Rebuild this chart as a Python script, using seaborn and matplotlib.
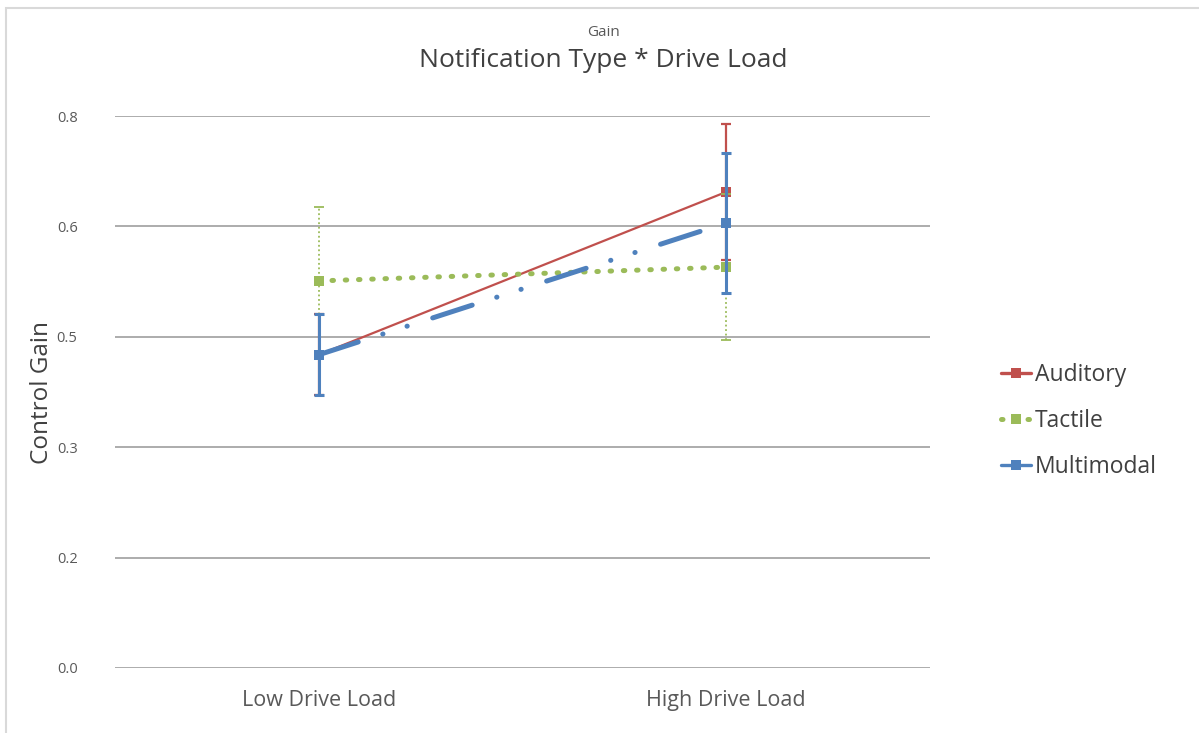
import matplotlib
matplotlib.use("Agg")
import matplotlib.pyplot as plt
from matplotlib.lines import Line2D
from matplotlib.patches import Rectangle
import seaborn as sns
import pandas as pd

# Chart data
loads = ["Low Drive Load", "High Drive Load"]
series = ["Auditory", "Tactile", "Multimodal"]
auditory = [0.454, 0.690]
tactile = [0.561, 0.581]
multimodal = [0.454, 0.645]
auditory_err = [0.059, 0.098]
tactile_err = [0.107, 0.106]
multimodal_err = [0.059, 0.101]
ytick_values = [0.0, 0.16, 0.32, 0.48, 0.64, 0.80]

sns.set_theme(style="white")
plt.rcParams["font.family"] = ["Open Sans", "DejaVu Sans"]

colors = {"Auditory": "#C0504D", "Tactile": "#9BBB59", "Multimodal": "#4F81BD"}
values = {"Auditory": auditory, "Tactile": tactile, "Multimodal": multimodal}
errors = {"Auditory": auditory_err, "Tactile": tactile_err, "Multimodal": multimodal_err}
styles = {
    "Auditory": dict(lw=1.6, ls="-", ms=7, ebls="-", elw=1.6),
    "Tactile": dict(lw=3.6, ls=(0, (0.3, 2.35)), ms=7.5, ebls=(0, (1, 1.5)), elw=1.3),
    "Multimodal": dict(lw=3.6, ls=(0, (8.3, 5.15, 0.05, 5.05, 0.05, 5.35)), ms=7.5, ebls="-", elw=2.2),
}

fig = plt.figure(figsize=(11.99, 7.33), dpi=100)
ax = fig.add_axes([115 / 1199, 0.0887, (930 - 115) / 1199, 0.8417 - 0.0887])

# thin frame around the chart area
fig.patches.append(Rectangle((6 / 1199, -0.01), 1.02, (733 - 8) / 733 + 0.01,
                             transform=fig.transFigure, fill=False,
                             edgecolor="#D9D9D9", lw=1.5))

for z, name in enumerate(series):
    st = styles[name]
    df = pd.DataFrame({"load": loads, "gain": values[name]})
    sns.lineplot(data=df, x="load", y="gain", ax=ax, color=colors[name],
                 linewidth=st["lw"], linestyle=st["ls"], marker="s",
                 markersize=st["ms"], markeredgewidth=0, sort=False,
                 zorder=3 + z)
    ax.lines[-1].set_dash_capstyle("round")
    eb = ax.errorbar(x=[0, 1], y=values[name], yerr=errors[name], fmt="none",
                     ecolor=colors[name], elinewidth=st["elw"], capsize=3.5,
                     capthick=st["elw"], zorder=3 + z)
    for col in eb[2]:
        col.set_linestyle(st["ebls"])

ax.set_xlim(-0.5, 1.5)
ax.set_ylim(0, 0.8)
ax.set_yticks(ytick_values)
ax.set_yticklabels([f"{v:.1f}" for v in ytick_values])
ax.yaxis.grid(True, color="#A6A6A6", lw=1.3)
ax.xaxis.grid(False)
for s in ax.spines.values():
    s.set_visible(False)
ax.tick_params(axis="y", labelsize=10.5, colors="#595959", length=0, pad=27)
ax.tick_params(axis="x", labelsize=15.5, colors="#595959", length=0, pad=16)
ax.set_xlabel("")
ax.set_ylabel("Control Gain", fontsize=17.5, color="#404040", labelpad=2)

fig.text(0.5035, 0.955, "Gain", ha="center", va="center", fontsize=11, color="#595959")
fig.text(0.5035, 0.917, "Notification Type * Drive Load", ha="center", va="center",
         fontsize=19, color="#404040")

handles = []
for name in series:
    handles.append(Line2D([0], [0], color=colors[name], lw=2.4 if name != "Tactile" else 3.6,
                          ls=(0, (0.3, 2.35)) if name == "Tactile" else "-",
                          dash_capstyle="round", marker="s", ms=7, mew=0))
leg = fig.legend(handles, series, loc="center left", bbox_to_anchor=(0.8175, 0.426),
                 frameon=False, fontsize=16.5, labelspacing=0.96, handlelength=1.3,
                 handletextpad=0.2, labelcolor="#404040")

fig.savefig("out.png", dpi=100)
